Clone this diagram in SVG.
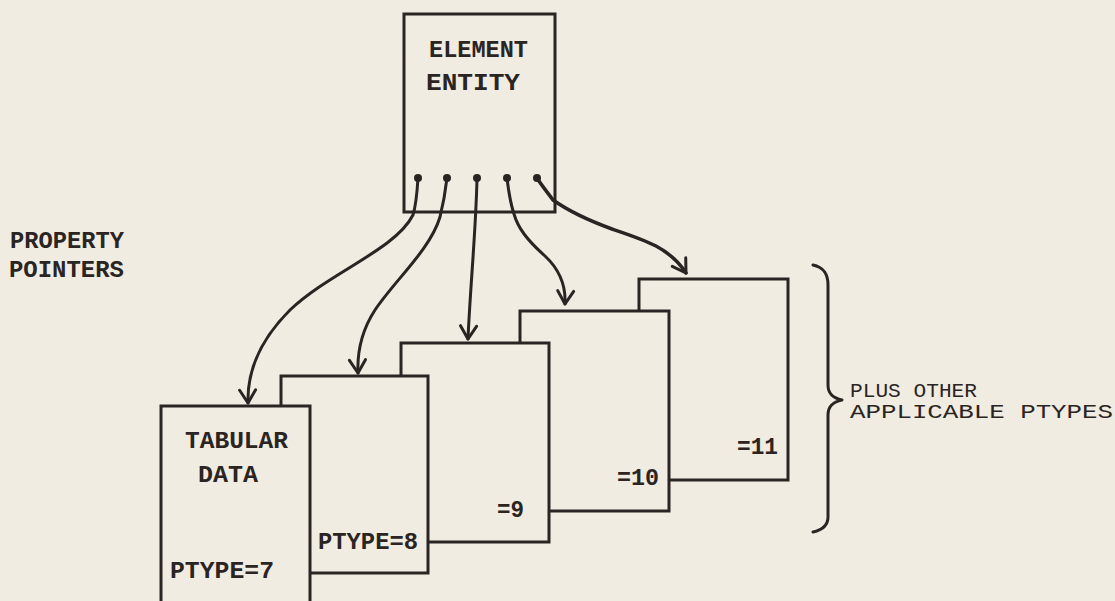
<svg xmlns="http://www.w3.org/2000/svg" width="1115" height="601" viewBox="0 0 1115 601">
<defs>
<style>
.bg{fill:#f1ece1}
.box{fill:#f1ece1;stroke:#2a2422;stroke-width:3}
.con{fill:none;stroke:#2a2422;stroke-width:3;stroke-linecap:round;stroke-linejoin:round}
.dot{fill:#2a2422}
.t{font-family:"Liberation Mono","DejaVu Sans Mono",monospace;font-weight:bold;font-size:23px;fill:#2a2422}
.t2{font-family:"Liberation Mono","DejaVu Sans Mono",monospace;font-size:20px;fill:#2a2422}
</style>
<marker id="ah" markerUnits="userSpaceOnUse" viewBox="-16 -11 18 22" refX="0" refY="0" markerWidth="18" markerHeight="22" orient="auto">
<path d="M-13,-8 L0,0 L-13,8" fill="none" stroke="#2a2422" stroke-width="3" stroke-linecap="round" stroke-linejoin="round"/>
</marker>
</defs>
<rect class="bg" x="0" y="0" width="1115" height="601"/>

<g id="ptype11"><rect class="box" x="639" y="279" width="149" height="201"/><text class="t" x="737" y="454" textLength="41" lengthAdjust="spacingAndGlyphs">=11</text></g>
<g id="ptype10"><rect class="box" x="520" y="311" width="149" height="200"/><text class="t" x="617" y="485" textLength="42" lengthAdjust="spacingAndGlyphs">=10</text></g>
<g id="ptype9"><rect class="box" x="401" y="343" width="148" height="199"/><text class="t" x="497" y="517" textLength="27" lengthAdjust="spacingAndGlyphs">=9</text></g>
<g id="ptype8"><rect class="box" x="281" y="376" width="147" height="197"/><text class="t" x="318" y="549" textLength="100" lengthAdjust="spacingAndGlyphs">PTYPE=8</text></g>
<g id="ptype7"><rect class="box" x="161" y="406" width="149" height="210"/>
<text class="t" x="185" y="448" textLength="103" lengthAdjust="spacingAndGlyphs">TABULAR</text>
<text class="t" x="198" y="482" textLength="60" lengthAdjust="spacingAndGlyphs">DATA</text>
<text class="t" x="170" y="578" textLength="104" lengthAdjust="spacingAndGlyphs">PTYPE=7</text></g>

<g id="element-entity"><rect class="box" x="404" y="14" width="151" height="198"/>
<text class="t" x="429" y="57" textLength="99" lengthAdjust="spacingAndGlyphs">ELEMENT</text>
<text class="t" x="426" y="90" textLength="94" lengthAdjust="spacingAndGlyphs">ENTITY</text>
<circle class="dot" cx="418" cy="178" r="4"/>
<circle class="dot" cx="447" cy="178" r="4"/>
<circle class="dot" cx="477" cy="178" r="4"/>
<circle class="dot" cx="507" cy="178" r="4"/>
<circle class="dot" cx="537" cy="178" r="4"/>
</g>

<g id="connectors">
<path class="con" marker-end="url(#ah)" d="M418,178 C417,195 416,205 413,215 C395,250 330,272 290,310 C262,338 247,370 248,403"/>
<path class="con" marker-end="url(#ah)" d="M447,178 C445,195 443,205 440,217 C430,250 395,280 375,310 C362,330 357,350 358,373"/>
<path class="con" marker-end="url(#ah)" d="M477,178 C476,230 470,290 468,339"/>
<path class="con" marker-end="url(#ah)" d="M507,178 C509,195 511,205 514,214 C518,228 527,240 545,256 C560,270 566,285 565,304"/>
<path class="con" marker-end="url(#ah)" style="stroke-width:3.5" d="M537,178 C542,186 548,193 553,200 C570,212 590,221 612,229 C645,240 670,248 686,273"/>
</g>

<g id="property-pointers-label">
<text class="t" x="10" y="248" textLength="114" lengthAdjust="spacingAndGlyphs">PROPERTY</text>
<text class="t" x="9" y="277" textLength="115" lengthAdjust="spacingAndGlyphs">POINTERS</text>
</g>

<g id="brace">
<path class="con" d="M813,265 C822,267 828,272 828,285 L828,385 C828,394 833,398 842,400 C833,402 828,406 828,415 L828,517 C828,526 822,530 813,532"/>
<text class="t2" x="850" y="397" textLength="127" lengthAdjust="spacingAndGlyphs">PLUS OTHER</text>
<text class="t2" x="850" y="418" textLength="263" lengthAdjust="spacingAndGlyphs">APPLICABLE PTYPES</text>
</g>
</svg>
